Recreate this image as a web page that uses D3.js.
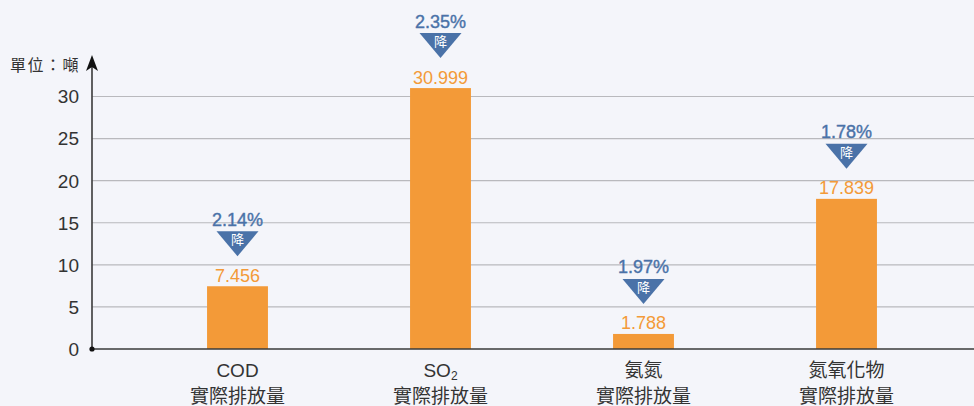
<!DOCTYPE html>
<html><head><meta charset="utf-8">
<script src="https://cdn.jsdelivr.net/npm/d3@7"></script>
<style>
html,body{margin:0;padding:0;background:#f4f5fa;}
svg{display:block;font-family:"Liberation Sans",Arial,"Noto Sans CJK TC",sans-serif;}
</style></head>
<body><svg id="c" width="974" height="406"></svg>
<script>
const categories = ["COD", "SO2", "氨氮", "氮氧化物"];
const values = [7.456, 30.999, 1.788, 17.839];
const valueLabels = ["7.456", "30.999", "1.788", "17.839"];
const declines = ["2.14%", "2.35%", "1.97%", "1.78%"];
const yTicks = [0, 5, 10, 15, 20, 25, 30];
const unitLabel = "單位：噸";
const subLabel = "實際排放量";

const svg = d3.select("#c");
const orange = "#f39a38", blue = "#4a72a8";
const x = d3.scaleBand().domain(categories).range([136, 948]).paddingInner(0.7).paddingOuter(0.35);
const y = d3.scaleLinear().domain([0, 30]).range([349, 96.5]);
const x0 = 92;

// grid
svg.append("g").selectAll("line").data(yTicks.filter(d => d > 0)).join("line")
  .attr("x1", x0).attr("x2", 974).attr("y1", d => y(d)).attr("y2", d => y(d))
  .attr("stroke", "#b9b9bd").attr("stroke-width", 1.2);

// y tick labels
svg.append("g").selectAll("text").data(yTicks).join("text")
  .attr("x", 79).attr("y", d => y(d)).attr("dy", "0.36em").attr("text-anchor", "end")
  .attr("font-size", 19).attr("fill", "#333").text(d => d);

// bars
svg.append("g").selectAll("rect").data(values).join("rect")
  .attr("x", (d, i) => x(categories[i])).attr("width", x.bandwidth())
  .attr("y", d => y(d)).attr("height", d => y(0) - y(d)).attr("fill", orange);

// axes lines
svg.append("line").attr("x1", x0).attr("x2", 974).attr("y1", y(0)).attr("y2", y(0))
  .attr("stroke", "#3a3a3a").attr("stroke-width", 1.6);
svg.append("line").attr("x1", x0).attr("x2", x0).attr("y1", y(0)).attr("y2", 64)
  .attr("stroke", "#3a3a3a").attr("stroke-width", 1.6);
svg.append("path").attr("d", `M${x0},55 L${x0 + 6},71 L${x0},67 L${x0 - 6},71 Z`).attr("fill", "#111");
svg.append("circle").attr("cx", x0).attr("cy", y(0)).attr("r", 2.6).attr("fill", "#111");

svg.append("text").attr("x", 10).attr("y", 65).attr("dy", "0.36em").attr("font-size", 16)
  .attr("letter-spacing", 1.5).attr("fill", "#333").text(unitLabel);

// annotations
const ann = svg.append("g").selectAll("g").data(values).join("g")
  .attr("transform", (d, i) => `translate(${x(categories[i]) + x.bandwidth() / 2},${y(d)})`);
ann.append("text").attr("y", -11).attr("dy", "0.36em").attr("text-anchor", "middle")
  .attr("font-size", 18).attr("fill", orange).text((d, i) => valueLabels[i]);
ann.append("path").attr("d", "M-21,-55 L21,-55 L0,-30 Z").attr("fill", blue);
ann.append("text").attr("y", -47).attr("dy", "0.36em").attr("text-anchor", "middle")
  .attr("font-size", 13).attr("fill", "#fff").text("降");
ann.append("text").attr("y", -67).attr("dy", "0.36em").attr("text-anchor", "middle")
  .attr("font-size", 18).attr("fill", blue).attr("stroke", blue).attr("stroke-width", 0.4)
  .text((d, i) => declines[i]);

// x labels
const xl = svg.append("g").selectAll("g").data(categories).join("g")
  .attr("transform", d => `translate(${x(d) + x.bandwidth() / 2},0)`);
xl.append("text").attr("y", 370).attr("dy", "0.36em").attr("text-anchor", "middle")
  .attr("font-size", 19).attr("fill", "#333")
  .each(function (d) {
    const t = d3.select(this);
    if (d === "SO2") {
      t.append("tspan").text("SO");
      t.append("tspan").attr("font-size", 12).attr("dy", "0.3em").text("2");
    } else t.text(d);
  });
xl.append("text").attr("y", 396).attr("dy", "0.36em").attr("text-anchor", "middle")
  .attr("font-size", 19).attr("fill", "#333").text(subLabel);
</script></body></html>
